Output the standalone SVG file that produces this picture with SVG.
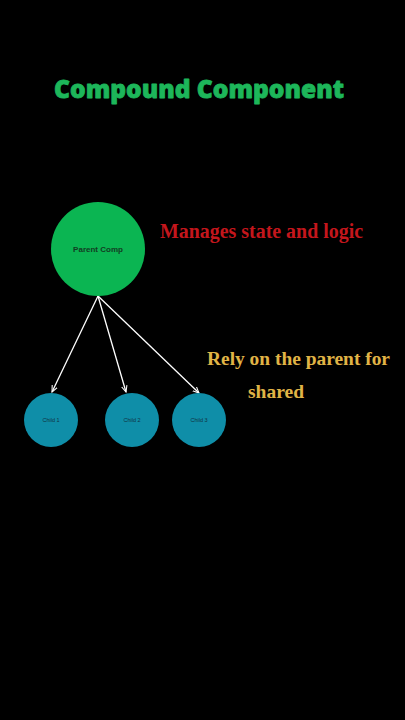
<svg xmlns="http://www.w3.org/2000/svg" width="405" height="720" viewBox="0 0 405 720">
<defs>
<style>
.title{font-family:"Open Sans","Inter",sans-serif;font-weight:800;font-size:25px;fill:#1db65a;stroke:#1db65a;stroke-width:0.8;stroke-linejoin:round}
.note{font-family:"Liberation Serif",serif;font-weight:bold}
.parent{fill:#0bb552}
.child{fill:#0f8ea8}
.plabel{font-family:"Liberation Sans",sans-serif;font-weight:bold;font-size:8px;fill:#123d22}
.clabel{font-family:"Liberation Sans",sans-serif;font-size:5.5px;fill:#0f3344}
.conn{stroke:#ffffff;stroke-width:1.3;fill:none}
</style>
<marker id="arr" viewBox="0 0 10 10" refX="9" refY="5" markerWidth="7" markerHeight="7" orient="auto" markerUnits="userSpaceOnUse">
<path d="M0,1 L9,5 L0,9" fill="none" stroke="#ffffff" stroke-width="1.5"/>
</marker>
</defs>
<rect width="405" height="720" fill="#000000"/>
<text class="title" x="54" y="98" textLength="290" lengthAdjust="spacingAndGlyphs">Compound Component</text>
<text class="note" x="160" y="238" font-size="22" fill="#c4161c" textLength="203" lengthAdjust="spacingAndGlyphs">Manages state and logic</text>
<text class="note" x="207" y="365" font-size="19.5" fill="#e0b446" textLength="183" lengthAdjust="spacingAndGlyphs">Rely on the parent for</text>
<text class="note" x="248" y="398" font-size="19.5" fill="#e0b446">shared</text>
<g id="connectors">
<line class="conn" x1="98" y1="296" x2="52" y2="392" marker-end="url(#arr)"/>
<line class="conn" x1="98" y1="296" x2="126" y2="392" marker-end="url(#arr)"/>
<line class="conn" x1="98" y1="296" x2="199" y2="393" marker-end="url(#arr)"/>
</g>
<g id="parent">
<circle class="parent" cx="98" cy="249" r="47"/>
<text class="plabel" x="98" y="252" text-anchor="middle">Parent  Comp</text>
</g>
<g id="child1">
<circle class="child" cx="51" cy="420" r="27"/>
<text class="clabel" x="51" y="422" text-anchor="middle">Child 1</text>
</g>
<g id="child2">
<circle class="child" cx="132" cy="420" r="27"/>
<text class="clabel" x="132" y="422" text-anchor="middle">Child 2</text>
</g>
<g id="child3">
<circle class="child" cx="199" cy="420" r="27"/>
<text class="clabel" x="199" y="422" text-anchor="middle">Child 3</text>
</g>
</svg>
